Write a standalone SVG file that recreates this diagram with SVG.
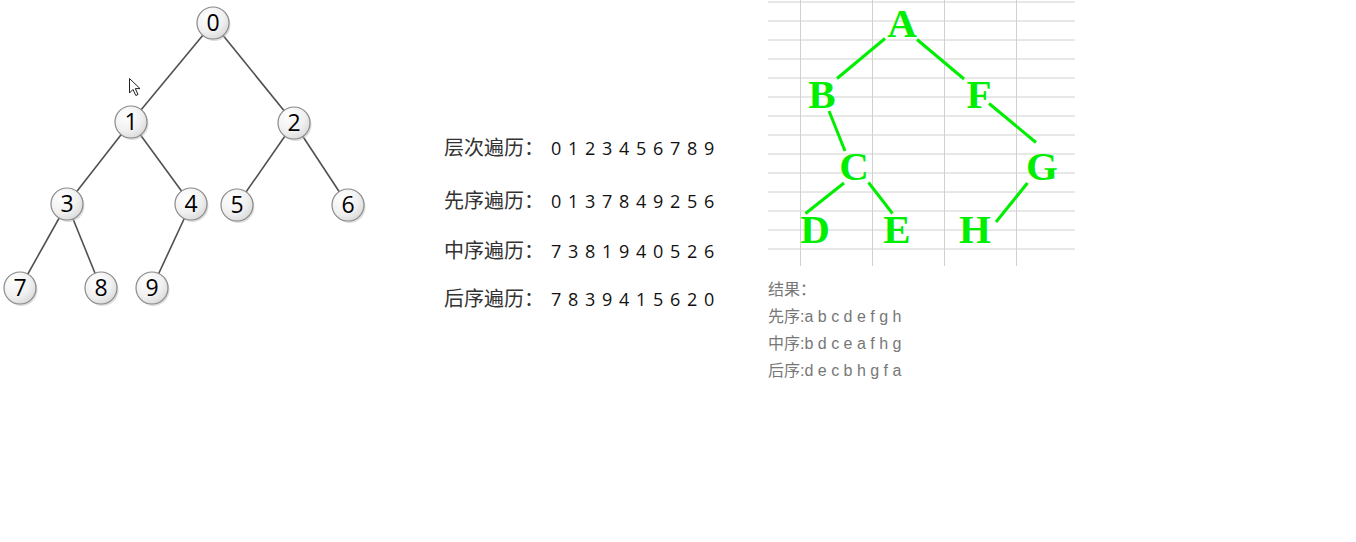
<svg xmlns="http://www.w3.org/2000/svg" width="1356" height="542" viewBox="0 0 1356 542">
<defs>
<radialGradient id="ng" cx="0.35" cy="0.3" r="0.8">
<stop offset="0" stop-color="#ffffff"/>
<stop offset="0.6" stop-color="#f0f0f0"/>
<stop offset="1" stop-color="#d6d6d6"/>
</radialGradient>
<style>
.edge{stroke:#505050;stroke-width:1.6;fill:none}
.nc{fill:url(#ng);stroke:#8a8a8a;stroke-width:1.2}
.sh{fill:#bbb;opacity:0.5}
.nt{font-family:"Open Sans","DejaVu Sans",sans-serif;font-size:23px;fill:#000;text-anchor:middle}
.trv{font-family:"Noto Sans CJK SC",sans-serif;font-size:20px;fill:#333}
.dg{font-family:"Open Sans","DejaVu Sans",sans-serif;font-size:18px;font-weight:500;fill:#111}
.grid{stroke:#d0d0d0;stroke-width:1}
.gl{stroke:#00ee00;stroke-width:3;fill:none}
.gt{font-family:"Liberation Serif",serif;font-weight:bold;font-size:41px;fill:#00ee00;text-anchor:middle}
.res{font-family:"Liberation Sans","Noto Sans CJK SC",sans-serif;font-size:16px;fill:#777}
</style>
</defs>
<rect width="1356" height="542" fill="#fff"/>

<g id="connectors">
<line class="edge" x1="213" y1="23" x2="131" y2="122"/>
<line class="edge" x1="213" y1="23" x2="294" y2="123"/>
<line class="edge" x1="131" y1="122" x2="67" y2="204"/>
<line class="edge" x1="131" y1="122" x2="191" y2="204"/>
<line class="edge" x1="294" y1="123" x2="237" y2="205"/>
<line class="edge" x1="294" y1="123" x2="348" y2="205"/>
<line class="edge" x1="67" y1="204" x2="20" y2="288"/>
<line class="edge" x1="67" y1="204" x2="101" y2="288"/>
<line class="edge" x1="191" y1="204" x2="152" y2="288"/>
</g>

<g id="n0"><circle class="sh" cx="214.5" cy="25" r="16"/><circle class="nc" cx="213" cy="23" r="16"/><text class="nt" x="213" y="31">0</text></g>
<g id="n1"><circle class="sh" cx="132.5" cy="124" r="16"/><circle class="nc" cx="131" cy="122" r="16"/><text class="nt" x="131" y="130">1</text></g>
<g id="n2"><circle class="sh" cx="295.5" cy="125" r="16"/><circle class="nc" cx="294" cy="123" r="16"/><text class="nt" x="294" y="131">2</text></g>
<g id="n3"><circle class="sh" cx="68.5" cy="206" r="16"/><circle class="nc" cx="67" cy="204" r="16"/><text class="nt" x="67" y="212">3</text></g>
<g id="n4"><circle class="sh" cx="192.5" cy="206" r="16"/><circle class="nc" cx="191" cy="204" r="16"/><text class="nt" x="191" y="212">4</text></g>
<g id="n5"><circle class="sh" cx="238.5" cy="207" r="16"/><circle class="nc" cx="237" cy="205" r="16"/><text class="nt" x="237" y="213">5</text></g>
<g id="n6"><circle class="sh" cx="349.5" cy="207" r="16"/><circle class="nc" cx="348" cy="205" r="16"/><text class="nt" x="348" y="213">6</text></g>
<g id="n7"><circle class="sh" cx="21.5" cy="290" r="16"/><circle class="nc" cx="20" cy="288" r="16"/><text class="nt" x="20" y="296">7</text></g>
<g id="n8"><circle class="sh" cx="102.5" cy="290" r="16"/><circle class="nc" cx="101" cy="288" r="16"/><text class="nt" x="101" y="296">8</text></g>
<g id="n9"><circle class="sh" cx="153.5" cy="290" r="16"/><circle class="nc" cx="152" cy="288" r="16"/><text class="nt" x="152" y="296">9</text></g>

<g id="cursor">
<path d="M129.5,78.5 L129.5,93 L133,89.5 L135.8,95.5 L138,94.5 L135.3,88.6 L140,88.6 Z" fill="#fff" stroke="#222" stroke-width="1"/>
</g>

<g id="traversals">
<text class="trv" x="444" y="155">层次遍历：</text>
<text class="dg" y="155"><tspan x="551 568 585 602 619 636 653 670 687 704">0123456789</tspan></text>
<text class="trv" x="444" y="208">先序遍历：</text>
<text class="dg" y="208"><tspan x="551 568 585 602 619 636 653 670 687 704">0137849256</tspan></text>
<text class="trv" x="444" y="258">中序遍历：</text>
<text class="dg" y="258"><tspan x="551 568 585 602 619 636 653 670 687 704">7381940526</tspan></text>
<text class="trv" x="444" y="306">后序遍历：</text>
<text class="dg" y="306"><tspan x="551 568 585 602 619 636 653 670 687 704">7839415620</tspan></text>
</g>

<g id="grid">
<line class="grid" x1="768" y1="2" x2="1075" y2="2"/>
<line class="grid" x1="768" y1="21" x2="1075" y2="21"/>
<line class="grid" x1="768" y1="40" x2="1075" y2="40"/>
<line class="grid" x1="768" y1="59" x2="1075" y2="59"/>
<line class="grid" x1="768" y1="78" x2="1075" y2="78"/>
<line class="grid" x1="768" y1="97" x2="1075" y2="97"/>
<line class="grid" x1="768" y1="116" x2="1075" y2="116"/>
<line class="grid" x1="768" y1="135" x2="1075" y2="135"/>
<line class="grid" x1="768" y1="154" x2="1075" y2="154"/>
<line class="grid" x1="768" y1="173" x2="1075" y2="173"/>
<line class="grid" x1="768" y1="192" x2="1075" y2="192"/>
<line class="grid" x1="768" y1="211" x2="1075" y2="211"/>
<line class="grid" x1="768" y1="230" x2="1075" y2="230"/>
<line class="grid" x1="768" y1="249" x2="1075" y2="249"/>
<line class="grid" x1="800.5" y1="0" x2="800.5" y2="266"/>
<line class="grid" x1="872.5" y1="0" x2="872.5" y2="266"/>
<line class="grid" x1="944.5" y1="0" x2="944.5" y2="266"/>
<line class="grid" x1="1016.5" y1="0" x2="1016.5" y2="266"/>
</g>

<g id="green-connectors">
<line class="gl" x1="885" y1="38.5" x2="837" y2="78.5"/>
<line class="gl" x1="917" y1="39.5" x2="964" y2="79"/>
<line class="gl" x1="829" y1="111" x2="845" y2="151"/>
<line class="gl" x1="989" y1="103.5" x2="1036" y2="142.5"/>
<line class="gl" x1="844" y1="183" x2="805.5" y2="213.5"/>
<line class="gl" x1="868.5" y1="182.5" x2="892.5" y2="213.5"/>
<line class="gl" x1="1027.5" y1="183" x2="996" y2="222"/>
</g>

<g id="A"><text class="gt" x="902" y="37">A</text></g>
<g id="B"><text class="gt" x="822" y="108">B</text></g>
<g id="F"><text class="gt" x="979" y="108">F</text></g>
<g id="C"><text class="gt" x="854" y="180">C</text></g>
<g id="G"><text class="gt" x="1042" y="180">G</text></g>
<g id="D"><text class="gt" x="815" y="243">D</text></g>
<g id="E"><text class="gt" x="897" y="243">E</text></g>
<g id="H"><text class="gt" x="975" y="243">H</text></g>

<g id="result">
<text class="res" x="768" y="295">结果：</text>
<text class="res" x="768" y="322">先序:a b c d e f g h</text>
<text class="res" x="768" y="349">中序:b d c e a f h g</text>
<text class="res" x="768" y="376">后序:d e c b h g f a</text>
</g>
</svg>
